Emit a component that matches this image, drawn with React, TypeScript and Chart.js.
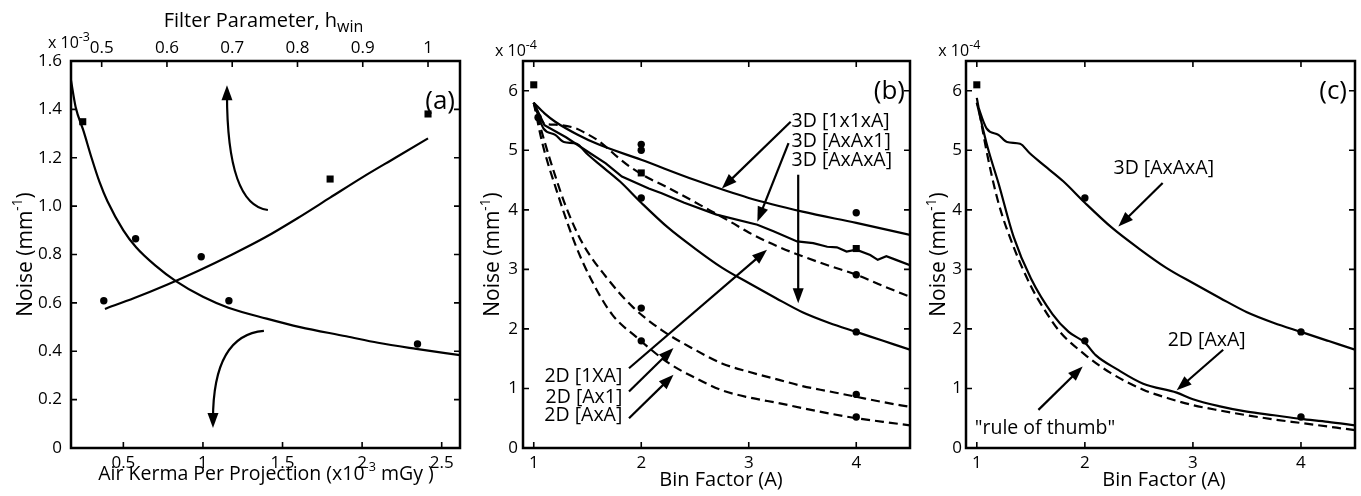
import React, { useEffect, useRef } from 'react';
import { Chart, registerables } from 'chart.js';
Chart.register(...registerables);

const FONT = '"Open Sans", "DejaVu Sans", sans-serif';

// ---------- Panel (a) ----------
const kermaTicks = [0.5, 1, 1.5, 2, 2.5];
const kermaTickLabels = ['0.5', '1', '1.5', '2', '2.5'];
const hwinTicks = [0.5, 0.6, 0.7, 0.8, 0.9, 1];
const hwinTickLabels = ['0.5', '0.6', '0.7', '0.8', '0.9', '1'];
const noiseATicks = [0, 0.2, 0.4, 0.6, 0.8, 1.0, 1.2, 1.4, 1.6];
const noiseATickLabels = ['0', '0.2', '0.4', '0.6', '0.8', '1.0', '1.2', '1.4', '1.6'];

const kermaCurveX = [0.171, 0.2, 0.25, 0.3, 0.35, 0.4, 0.5, 0.58, 0.7, 0.83, 1.0, 1.16, 1.4, 1.61, 1.9, 2.1, 2.34, 2.615];
const kermaCurveY = [1.52, 1.41, 1.31, 1.2, 1.1, 1.02, 0.9, 0.83, 0.755, 0.69, 0.625, 0.58, 0.535, 0.5, 0.462, 0.435, 0.41, 0.384];
const filterCurveX = [0.505, 0.55, 0.6, 0.65, 0.7, 0.75, 0.8, 0.85, 0.9, 0.95, 1.0];
const filterCurveY = [0.575, 0.62, 0.675, 0.735, 0.8, 0.87, 0.95, 1.035, 1.12, 1.2, 1.28];
const kermaPointX = [0.377, 0.577, 0.989, 1.163, 2.348];
const kermaPointY = [0.609, 0.865, 0.791, 0.609, 0.43];
const filterPointX = [0.471, 0.85, 1.0];
const filterPointY = [1.349, 1.112, 1.381];

// ---------- Panels (b) and (c) ----------
const binTicks = [1, 2, 3, 4];
const binTickLabels = ['1', '2', '3', '4'];
const noiseTicks = [0, 1, 2, 3, 4, 5, 6];
const noiseTickLabels = ['0', '1', '2', '3', '4', '5', '6'];

// 3D [1x1xA]
const s3d1x1xAX = [1, 1.1, 1.2, 1.4, 1.6, 2, 2.5, 3, 3.5, 4, 4.5];
const s3d1x1xAY = [5.8, 5.62, 5.48, 5.27, 5.1, 4.84, 4.5, 4.2, 3.97, 3.78, 3.58];
// 3D [AxAx1]
const s3dAxAx1X = [1, 1.1, 1.3, 1.5, 1.67, 1.82, 2.07, 2.19, 2.4, 2.7, 3.08, 3.23, 3.45, 3.6, 3.73, 3.82, 3.91, 4.0, 4.13, 4.2, 4.28, 4.37, 4.5];
const s3dAxAx1Y = [5.8, 5.42, 5.22, 4.98, 4.78, 4.56, 4.36, 4.28, 4.12, 3.92, 3.75, 3.64, 3.47, 3.44, 3.38, 3.37, 3.3, 3.33, 3.24, 3.16, 3.22, 3.16, 3.07];
// 3D [AxAxA]
const s3dAxAxAX = [1, 1.09, 1.2, 1.28, 1.4, 1.49, 1.6, 1.8, 2.0, 2.25, 2.5, 2.75, 3.0, 3.25, 3.5, 3.75, 4.0, 4.25, 4.5];
const s3dAxAxAY = [5.8, 5.37, 5.26, 5.14, 5.11, 4.95, 4.78, 4.48, 4.12, 3.7, 3.35, 3.03, 2.77, 2.52, 2.28, 2.1, 1.95, 1.8, 1.65];
// 2D [1XA]
const s2d1xAX = [1, 1.1, 1.2, 1.39, 1.48, 1.61, 1.79, 1.89, 2.07, 2.23, 2.63, 2.83, 3.0, 3.25, 3.5, 3.75, 4.0, 4.25, 4.5];
const s2d1xAY = [5.8, 5.45, 5.43, 5.37, 5.29, 5.15, 4.87, 4.73, 4.53, 4.39, 4.0, 3.8, 3.62, 3.4, 3.22, 3.06, 2.91, 2.72, 2.54];
// 2D [Ax1]
const s2dAx1X = [1, 1.1, 1.2, 1.3, 1.45, 1.67, 1.92, 2.19, 2.5, 2.75, 3.0, 3.29, 3.5, 3.75, 4.0, 4.25, 4.5];
const s2dAx1Y = [5.8, 5.15, 4.57, 4.05, 3.45, 2.88, 2.37, 1.98, 1.65, 1.42, 1.28, 1.14, 1.04, 0.95, 0.86, 0.77, 0.69];
// 2D [AxA] (panel b)
const s2dAxAX = [1, 1.08, 1.21, 1.38, 1.52, 1.73, 1.95, 2.26, 2.5, 2.75, 3.0, 3.29, 3.5, 3.75, 4.0, 4.25, 4.5];
const s2dAxAY = [5.8, 5.12, 4.34, 3.45, 2.88, 2.24, 1.87, 1.42, 1.18, 0.97, 0.85, 0.75, 0.67, 0.58, 0.5, 0.44, 0.38];
// panel (c): 2D [AxA] and "rule of thumb"
const c2dAxAX = [1, 1.1, 1.2, 1.34, 1.5, 1.7, 1.85, 2.0, 2.1, 2.3, 2.54, 2.85, 3.0, 3.25, 3.5, 3.75, 4.0, 4.25, 4.5];
const c2dAxAY = [5.8, 5.05, 4.45, 3.55, 2.85, 2.25, 1.95, 1.77, 1.56, 1.32, 1.08, 0.93, 0.82, 0.7, 0.61, 0.55, 0.49, 0.44, 0.38];
const thumbX = [1, 1.1, 1.2, 1.34, 1.5, 1.61, 1.77, 2.0, 2.23, 2.54, 2.8, 3.0, 3.25, 3.5, 3.75, 4.0, 4.25, 4.5];
const thumbY = [5.88, 4.9, 4.12, 3.38, 2.72, 2.37, 1.95, 1.57, 1.27, 0.98, 0.82, 0.72, 0.63, 0.55, 0.48, 0.42, 0.36, 0.3];

const bSquareX = [1, 2, 4];
const bSquareY = [6.1, 4.62, 3.35];
const bCircleX = [1.04, 2, 2, 2, 2, 2, 4, 4, 4, 4, 4];
const bCircleY = [5.55, 5.1, 5.0, 4.2, 2.35, 1.8, 3.95, 2.91, 1.95, 0.9, 0.52];
const cSquareX = [1];
const cSquareY = [6.1];
const cCircleX = [2, 2, 4, 4];
const cCircleY = [4.2, 1.8, 1.95, 0.52];

// ---------- helpers ----------
type Part = [string, number];

function pts(xs: number[], ys: number[]) {
  return xs.map((x, i) => ({ x, y: ys[i] }));
}

function lineDs(xs: number[], ys: number[], dashed: boolean, xAxisID = 'x', smooth = true) {
  return {
    type: 'line',
    data: pts(xs, ys),
    xAxisID,
    yAxisID: 'y',
    borderColor: '#000',
    borderWidth: 2.2,
    borderDash: dashed ? [9, 5] : [],
    pointRadius: 0,
    fill: false,
    tension: 0,
    cubicInterpolationMode: smooth ? 'monotone' : 'default',
  };
}

function markDs(xs: number[], ys: number[], style: string, xAxisID = 'x') {
  return {
    type: 'scatter',
    data: pts(xs, ys),
    xAxisID,
    yAxisID: 'y',
    pointStyle: style,
    pointRadius: style === 'rect' ? 5 : 3.7,
    pointBackgroundColor: '#000',
    pointBorderWidth: 0,
    showLine: false,
  };
}

function axis(pos: string, min: number, max: number, ticks: number[], labels: string[], size: number, pad: number) {
  return {
    type: 'linear',
    position: pos,
    min,
    max,
    afterBuildTicks: (s: any) => {
      s.ticks = ticks.map((v) => ({ value: v }));
    },
    afterFit: (s: any) => {
      if (pos === 'left' || pos === 'right') s.width = size;
      else s.height = size;
    },
    ticks: {
      autoSkip: false,
      maxRotation: 0,
      minRotation: 0,
      padding: pad,
      color: '#000',
      font: { family: FONT, size: 17 },
      callback: (_v: any, i: number) => labels[i],
    },
    grid: { display: false, drawTicks: false },
    border: { display: false },
  };
}

function drawRich(ctx: CanvasRenderingContext2D, parts: Part[], x: number, y: number, size: number, align: string, rot: number, mid: boolean, supScale: number) {
  ctx.save();
  ctx.translate(x, y);
  if (rot) ctx.rotate((rot * Math.PI) / 180);
  const segs = parts.map(([t, m]) => {
    const s = m === 0 ? size : size * (m === 1 ? supScale : 0.8);
    ctx.font = `${s}px ${FONT}`;
    return { t, m, s, w: ctx.measureText(t).width };
  });
  const total = segs.reduce((a, g) => a + g.w, 0);
  let cx = align === 'center' ? -total / 2 : align === 'right' ? -total : 0;
  const base = mid ? size * 0.36 : 0;
  ctx.textAlign = 'left';
  ctx.textBaseline = 'alphabetic';
  ctx.fillStyle = '#000';
  for (const g of segs) {
    ctx.font = `${g.s}px ${FONT}`;
    const dy = g.m === 1 ? -size * 0.45 : g.m === -1 ? size * 0.27 : 0;
    ctx.fillText(g.t, cx, base + dy);
    cx += g.w;
  }
  ctx.restore();
}

function head(ctx: CanvasRenderingContext2D, tx: number, ty: number, dx: number, dy: number) {
  const len = 15, half = 5.5;
  const n = Math.hypot(dx, dy) || 1;
  const ux = dx / n, uy = dy / n;
  const bx = tx - ux * len, by = ty - uy * len;
  ctx.beginPath();
  ctx.moveTo(tx, ty);
  ctx.lineTo(bx - uy * half, by + ux * half);
  ctx.lineTo(bx + uy * half, by - ux * half);
  ctx.closePath();
  ctx.fill();
}

type TextSpec = { parts: Part[]; at: any[]; size: number; align: string; rot?: number; mid?: boolean; sup?: number };
type ArrowSpec = { from: number[]; to: number[]; ctrl?: number[] };
type Deco = { name: string; topScale?: string; texts: TextSpec[]; arrows: ArrowSpec[] };

function makeDeco(spec: Deco) {
  return {
    id: 'deco_' + spec.name,
    afterDraw(chart: any) {
      const { ctx, chartArea: ca, scales } = chart;
      const xs = scales.x, ys = scales.y;
      const ts = spec.topScale ? scales[spec.topScale] : xs;
      const X = (v: number) => xs.getPixelForValue(v);
      const Y = (v: number) => ys.getPixelForValue(v);
      ctx.save();
      ctx.strokeStyle = '#000';
      ctx.fillStyle = '#000';
      // inward ticks
      const TL = 6;
      ctx.lineWidth = 1.6;
      ctx.beginPath();
      for (const t of xs.ticks) {
        const p = xs.getPixelForValue(t.value);
        ctx.moveTo(p, ca.bottom);
        ctx.lineTo(p, ca.bottom - TL);
      }
      for (const t of ts.ticks) {
        const p = ts.getPixelForValue(t.value);
        ctx.moveTo(p, ca.top);
        ctx.lineTo(p, ca.top + TL);
      }
      for (const t of ys.ticks) {
        const p = ys.getPixelForValue(t.value);
        ctx.moveTo(ca.left, p);
        ctx.lineTo(ca.left + TL, p);
        ctx.moveTo(ca.right, p);
        ctx.lineTo(ca.right - TL, p);
      }
      ctx.stroke();
      // frame
      ctx.lineWidth = 2.5;
      ctx.strokeRect(ca.left, ca.top, ca.right - ca.left, ca.bottom - ca.top);
      // arrows
      ctx.lineWidth = 2.2;
      for (const a of spec.arrows) {
        const x0 = X(a.from[0]), y0 = Y(a.from[1]);
        const x2 = X(a.to[0]), y2 = Y(a.to[1]);
        ctx.beginPath();
        ctx.moveTo(x0, y0);
        let dx, dy;
        if (a.ctrl) {
          const cx = X(a.ctrl[0]), cy = Y(a.ctrl[1]);
          dx = x2 - cx; dy = y2 - cy;
          const n = Math.hypot(dx, dy) || 1;
          ctx.quadraticCurveTo(cx, cy, x2 - (dx / n) * 8, y2 - (dy / n) * 8);
        } else {
          dx = x2 - x0; dy = y2 - y0;
          const n = Math.hypot(dx, dy) || 1;
          ctx.lineTo(x2 - (dx / n) * 8, y2 - (dy / n) * 8);
        }
        ctx.stroke();
        head(ctx, x2, y2, dx, dy);
      }
      // texts
      for (const t of spec.texts) {
        let px, py;
        if (t.at[0] === 'data') {
          px = X(t.at[1]);
          py = Y(t.at[2]);
        } else {
          px = ca.left + t.at[1] * (ca.right - ca.left) + t.at[3];
          py = ca.top + t.at[2] * (ca.bottom - ca.top) + t.at[4];
        }
        drawRich(ctx, t.parts, px, py, t.size, t.align, t.rot || 0, !!t.mid, t.sup || 0.65);
      }
      ctx.restore();
    },
  };
}

function baseOptions(padding: any, scales: any) {
  return {
    animation: false,
    responsive: false,
    maintainAspectRatio: false,
    events: [],
    layout: { padding },
    plugins: { legend: { display: false }, tooltip: { enabled: false } },
    scales,
  };
}

const noiseTitle: Part[] = [['Noise (mm', 0], ['-1', 1], [')', 0]];

function buildA(): any {
  const deco: Deco = {
    name: 'a',
    topScale: 'x2',
    texts: [
      { parts: [['Filter Parameter, h', 0], ['win', -1]], at: ['area', 0.5, 0, -2, -34.5], size: 20, align: 'center' },
      { parts: [['x 10', 0], ['-3', 1]], at: ['area', 0, 0, -23, -13], size: 16, align: 'left', sup: 0.78 },
      { parts: noiseTitle, at: ['area', 0, 0.5, -47, 0], size: 21, align: 'center', rot: -90, mid: true },
      { parts: [['Air Kerma Per Projection (x10', 0], ['-3', 1], [' mGy )', 0]], at: ['area', 0.5, 1, 0.5, 31.5], size: 19.5, align: 'center' },
      { parts: [['(a)', 0]], at: ['area', 1, 0, -5, 39], size: 26, align: 'right', mid: true },
    ],
    arrows: [
      { from: [1.408, 0.984], ctrl: [1.151, 1.005], to: [1.151, 1.5] },
      { from: [1.383, 0.484], ctrl: [1.063, 0.467], to: [1.063, 0.083] },
    ],
  };
  return {
    type: 'line',
    data: {
      datasets: [
        lineDs(kermaCurveX, kermaCurveY, false, 'x'),
        lineDs(filterCurveX, filterCurveY, false, 'x2'),
        markDs(kermaPointX, kermaPointY, 'circle', 'x'),
        markDs(filterPointX, filterPointY, 'rect', 'x2'),
      ],
    },
    options: baseOptions({ top: 0, right: 10, left: 0, bottom: 0 }, {
      x: axis('bottom', 0.171, 2.615, kermaTicks, kermaTickLabels, 48, 5),
      x2: axis('top', 0.453, 1.049, hwinTicks, hwinTickLabels, 61, 3),
      y: axis('left', 0, 1.6, noiseATicks, noiseATickLabels, 71, 9),
    }),
    plugins: [makeDeco(deco)],
  };
}

function buildB(): any {
  const deco: Deco = {
    name: 'b',
    texts: [
      { parts: [['x 10', 0], ['-4', 1]], at: ['area', 0, 0, -28, -5], size: 16, align: 'left', sup: 0.78 },
      { parts: noiseTitle, at: ['area', 0, 0.5, -31.5, 0], size: 21, align: 'center', rot: -90, mid: true },
      { parts: [['Bin Factor (A)', 0]], at: ['area', 0.5, 1, 4.5, 38], size: 20, align: 'center' },
      { parts: [['(b)', 0]], at: ['area', 1, 0, -5, 29], size: 26, align: 'right', mid: true },
      { parts: [['3D [1x1xA]', 0]], at: ['data', 3.398, 5.51], size: 19.5, align: 'left', mid: true },
      { parts: [['3D [AxAx1]', 0]], at: ['data', 3.398, 5.18], size: 19.5, align: 'left', mid: true },
      { parts: [['3D [AxAxA]', 0]], at: ['data', 3.398, 4.86], size: 19.5, align: 'left', mid: true },
      { parts: [['2D [1XA]', 0]], at: ['data', 1.824, 1.227], size: 19.5, align: 'right', mid: true },
      { parts: [['2D [Ax1]', 0]], at: ['data', 1.824, 0.874], size: 19.5, align: 'right', mid: true },
      { parts: [['2D [AxA]', 0]], at: ['data', 1.824, 0.571], size: 19.5, align: 'right', mid: true },
    ],
    arrows: [
      { from: [3.39, 5.48], to: [2.75, 4.36] },
      { from: [3.37, 5.12], to: [3.08, 3.8] },
      { from: [3.46, 4.59], to: [3.46, 2.43] },
      { from: [1.886, 1.34], to: [3.17, 3.33] },
      { from: [1.886, 0.95], to: [2.3, 1.68] },
      { from: [1.886, 0.5], to: [2.3, 1.23] },
    ],
  };
  return {
    type: 'line',
    data: {
      datasets: [
        lineDs(s3d1x1xAX, s3d1x1xAY, false),
        lineDs(s3dAxAx1X, s3dAxAx1Y, false, 'x', false),
        lineDs(s3dAxAxAX, s3dAxAxAY, false),
        lineDs(s2d1xAX, s2d1xAY, true),
        lineDs(s2dAx1X, s2dAx1Y, true),
        lineDs(s2dAxAX, s2dAxAY, true),
        markDs(bSquareX, bSquareY, 'rect'),
        markDs(bCircleX, bCircleY, 'circle'),
      ],
    },
    options: baseOptions({ top: 61, right: 3, left: 0, bottom: 0 }, {
      x: axis('bottom', 0.9, 4.5, binTicks, binTickLabels, 48, 5),
      y: axis('left', 0, 6.5, noiseTicks, noiseTickLabels, 53, 5),
    }),
    plugins: [makeDeco(deco)],
  };
}

function buildC(): any {
  const deco: Deco = {
    name: 'c',
    texts: [
      { parts: [['x 10', 0], ['-4', 1]], at: ['area', 0, 0, -27.7, -5], size: 16, align: 'left', sup: 0.78 },
      { parts: noiseTitle, at: ['area', 0, 0.5, -28.5, 0], size: 21, align: 'center', rot: -90, mid: true },
      { parts: [['Bin Factor (A)', 0]], at: ['area', 0.5, 1, 3.5, 38], size: 20, align: 'center' },
      { parts: [['(c)', 0]], at: ['area', 1, 0, -8, 29], size: 26, align: 'right', mid: true },
      { parts: [['3D [AxAxA]', 0]], at: ['data', 2.73, 4.72], size: 19.5, align: 'center', mid: true },
      { parts: [['2D [AxA]', 0]], at: ['data', 3.127, 1.83], size: 19.5, align: 'center', mid: true },
      { parts: [['"rule of thumb"', 0]], at: ['data', 1.631, 0.353], size: 19.5, align: 'center', mid: true },
    ],
    arrows: [
      { from: [2.72, 4.45], to: [2.31, 3.72] },
      { from: [3.28, 1.65], to: [2.85, 0.97] },
      { from: [1.57, 0.64], to: [1.98, 1.37] },
    ],
  };
  return {
    type: 'line',
    data: {
      datasets: [
        lineDs(s3dAxAxAX, s3dAxAxAY, false),
        lineDs(c2dAxAX, c2dAxAY, false),
        lineDs(thumbX, thumbY, true),
        markDs(cSquareX, cSquareY, 'rect'),
        markDs(cCircleX, cCircleY, 'circle'),
      ],
    },
    options: baseOptions({ top: 61, right: 6, left: 0, bottom: 0 }, {
      x: axis('bottom', 0.9, 4.5, binTicks, binTickLabels, 48, 5),
      y: axis('left', 0, 6.5, noiseTicks, noiseTickLabels, 51, 4),
    }),
    plugins: [makeDeco(deco)],
  };
}

function Panel({ left, width, build }: { left: number; width: number; build: () => any }) {
  const ref = useRef<HTMLCanvasElement>(null);
  useEffect(() => {
    const chart = new Chart(ref.current as HTMLCanvasElement, build());
    return () => chart.destroy();
  }, []);
  return (
    <canvas
      ref={ref}
      width={width}
      height={496}
      style={{ position: 'absolute', left, top: 0, width, height: 496 }}
    />
  );
}

export default function App() {
  return (
    <div style={{ position: 'fixed', left: 0, top: 0, width: 1361, height: 496, background: '#fff', overflow: 'hidden' }}>
      <Panel left={0} width={470} build={buildA} />
      <Panel left={470} width={445} build={buildB} />
      <Panel left={915} width={446} build={buildC} />
    </div>
  );
}
